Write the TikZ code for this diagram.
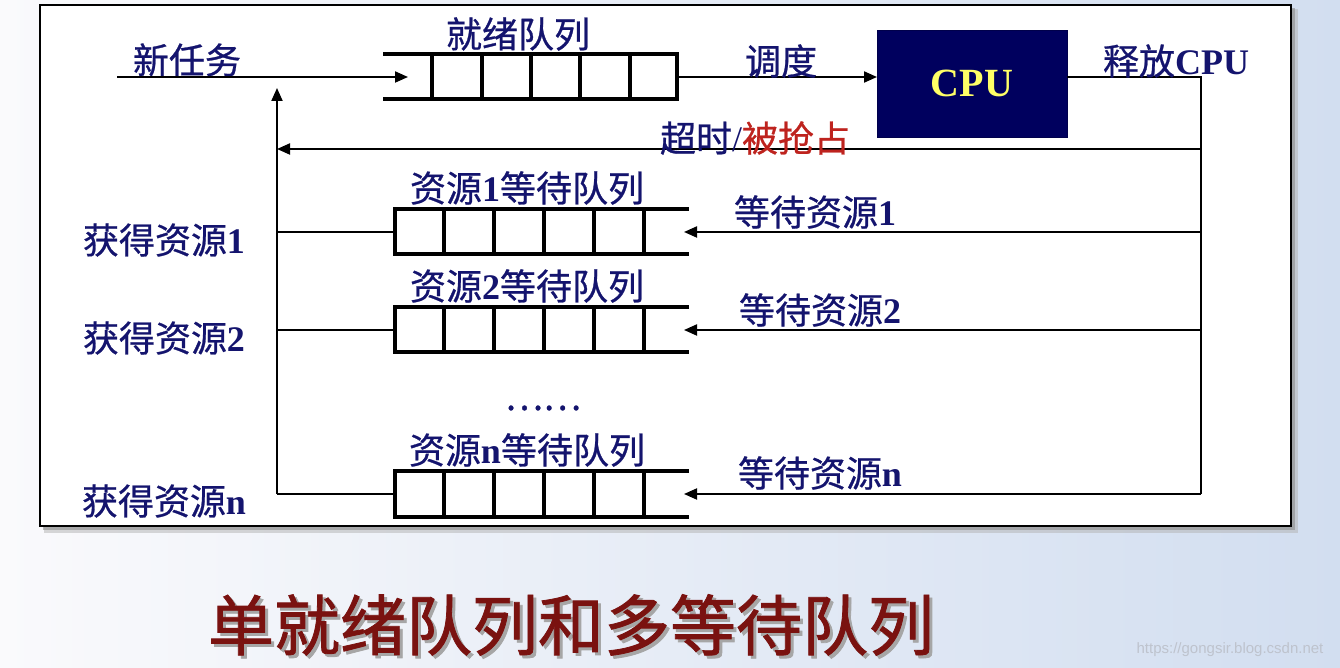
\documentclass[tikz,border=0pt]{standalone}
\usepackage{fontspec}
\setmainfont{Liberation Serif}
\newfontfamily\cjk[FakeBold=0.7]{Noto Sans CJK SC}
\newfontfamily\cjktitle[FakeBold=1.2]{Noto Sans CJK SC}
\newfontfamily\wmfont{Liberation Sans}
\usetikzlibrary{arrows.meta,calc}
\definecolor{navy}{RGB}{20,20,110}
\definecolor{cpublue}{RGB}{0,0,94}
\definecolor{cpuyellow}{RGB}{255,255,102}
\definecolor{redtxt}{RGB}{190,35,30}
\definecolor{titlered}{RGB}{122,18,16}
\definecolor{bgleft}{RGB}{250,250,252}
\definecolor{bgright}{RGB}{210,222,240}
\definecolor{wmgray}{RGB}{190,195,205}
\newcommand{\zh}[1]{{\cjk #1}}
\begin{document}
\begin{tikzpicture}[x=0.5pt,y=-0.5pt,
  lbl/.style={font=\fontsize{18}{20}\selectfont, text=navy, inner sep=0pt},
  qbox/.style={minimum width=147pt, minimum height=22.5pt, inner sep=0pt, outer sep=0pt},
  qline/.style={line width=2pt},
  conn/.style={line width=1pt},
  arr/.style={conn,-{Triangle[length=6.5pt,width=5.5pt]}}]
\useasboundingbox (0,0) rectangle (1340,668);
% background
\fill[left color=bgleft, right color=bgright] (0,0) rectangle (1340,668);
% frame with shadow
\fill[black!30, opacity=0.5] (44,9) rectangle (1298,533);
\fill[black!45, opacity=0.6] (43,8) rectangle (1295,530);
\node[draw, fill=white, line width=1.2pt, minimum width=625.5pt, minimum height=260.5pt,
      inner sep=0pt, outer sep=0pt] (frame) at (665.5,265.5) {};

% ready queue
\node[qbox] (rq) at (530,77) {};
\draw[qline] (rq.north west) -- (rq.north east) -- (rq.south east) -- (rq.south west);
\foreach \d in {49,99,148,197,247}
  \draw[qline] ($(rq.north west)+(\d,0)$) -- ($(rq.south west)+(\d,0)$);
\node[lbl] (rqlbl) at (518,34) {\zh{就绪队列}};

% CPU
\node[fill=cpublue, draw=cpublue!80!black, minimum width=95pt, minimum height=53.5pt,
      inner sep=0pt, outer sep=0pt, text=cpuyellow,
      font=\fontsize{20}{22}\selectfont\bfseries] (cpu) at (972,83.5) {CPU};

% coordinates of the loop
\coordinate (newin) at (117,77);
\coordinate (rqin) at (408,77);
\coordinate (rtop) at (1201,77);
\coordinate (rbot) at (1201,494);
\coordinate (lbot) at (277,494);
\coordinate (ltop) at (277,88);
\coordinate (rret) at (1201,149);
\coordinate (lret) at (277,149);

\node[lbl] (newlbl) at (187,60) {\zh{新任务}};
\draw[arr] (newin) -- (rqin);
\draw[arr] (rq.east) -- (rq.east -| cpu.west);
\node[lbl] (schedlbl) at (781,61) {\zh{调度}};
\draw[conn] (rtop -| cpu.east) -- (rtop) -- (rbot);
\node[lbl] (rellbl) at (1176,61) {\zh{释放}\textbf{CPU}};
\draw[arr] (rret) -- (lret);
\node[lbl] (tolbl) at (755,138) {\zh{超时}/\textcolor{redtxt}{\zh{被抢占}}};
\draw[arr] (lbot) -- (ltop);

% resource queues
\foreach \n/\y/\tag/\wx/\wy/\gy in {1/232/1/815/212/240, 2/330/2/820/310/338, n/494/n/820/473/501}{
  \node[qbox] (q\n) at (542,\y) {};
  \draw[qline] (q\n.north east) -- (q\n.north west) -- (q\n.south west) -- (q\n.south east);
  \foreach \d in {49,99,149,199,249}
    \draw[qline] ($(q\n.north west)+(\d,0)$) -- ($(q\n.south west)+(\d,0)$);
  \node[lbl] (ql\n) at (527,\y-44) {\zh{资源}\textbf{\tag}\zh{等待队列}};
  \node[lbl] (wl\n) at (\wx,\wy) {\zh{等待资源}\textbf{\tag}};
  \node[lbl] (gl\n) at (164,\gy) {\zh{获得资源}\textbf{\tag}};
  \draw[arr] (q\n.east -| rbot) -- ($(q\n.east)+(-5,0)$);
  \draw[conn] (q\n.west) -- (q\n.west -| lbot);
}
\node[lbl] (dots) at (543,408) {\zh{……}};

% title
\node[font=\cjktitle\fontsize{33}{36}\selectfont, text=black!35, inner sep=0pt] (titlesh) at (574,628) {单就绪队列和多等待队列};
\node[font=\cjktitle\fontsize{33}{36}\selectfont, text=titlered, inner sep=0pt] (title) at (571,625) {单就绪队列和多等待队列};
\node[font=\wmfont\fontsize{7.5}{8}\selectfont, text=wmgray, inner sep=0pt] (wm) at (1230,650) {https://gongsir.blog.csdn.net};
\end{tikzpicture}
\end{document}
